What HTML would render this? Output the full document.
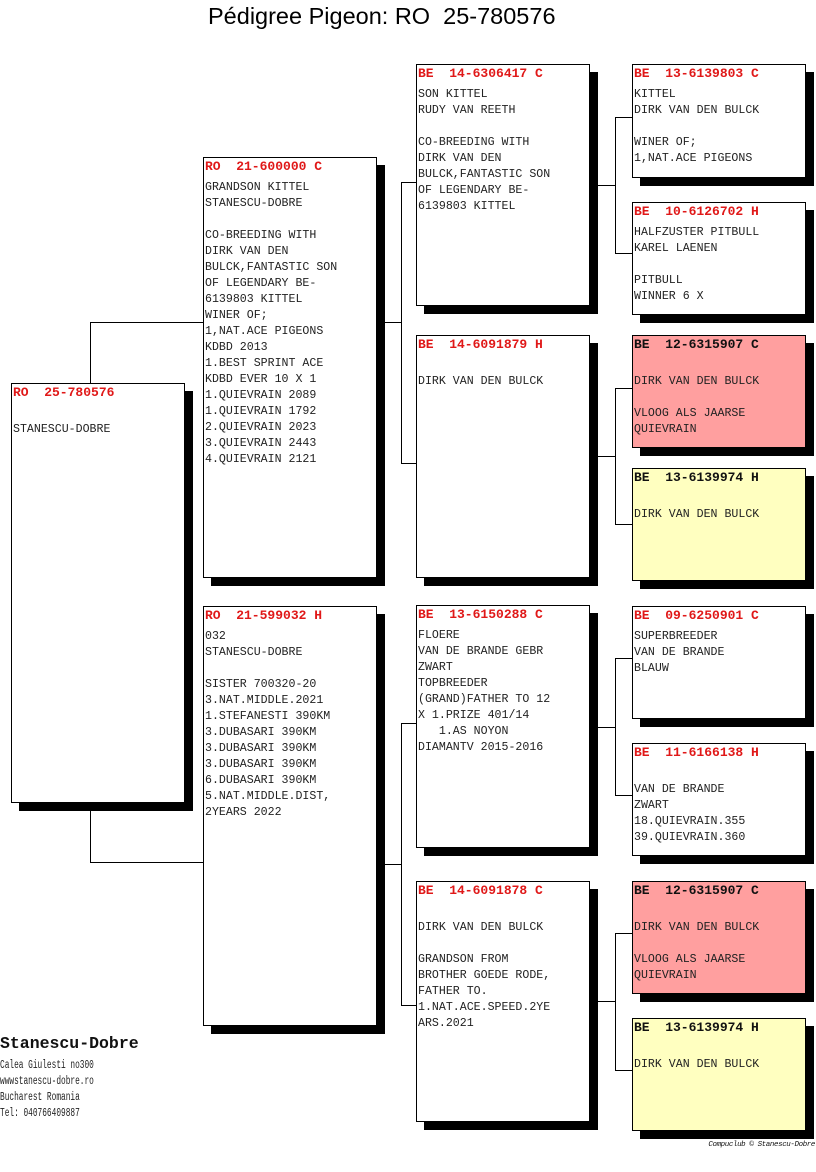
<!DOCTYPE html>
<html><head><meta charset="utf-8"><style>
body{margin:0;background:#fff;width:816px;height:1172px;position:relative;overflow:hidden}
.t{position:absolute;left:208px;top:3px;font:23.5px "Liberation Sans",sans-serif;color:#000;white-space:pre}
.b{position:absolute;border:1px solid #000;background:#fff;box-shadow:8px 8px 0 #000;font:11.6px/16px "Liberation Mono",monospace;color:#222;white-space:pre;box-sizing:border-box;padding:0 0 0 1px;overflow:hidden}
.h{color:#e01818;font-weight:bold;font-size:13px;height:22px;line-height:17px}
.pk{background:#ff9f9f}.pk .h{color:#111}
.yl{background:#ffffc0}.yl .h{color:#111}
.l{position:absolute;background:#000}
.f{position:absolute;left:0;font-family:"Liberation Mono",monospace;color:#222;white-space:pre}
</style></head><body>
<div class="t">Pédigree Pigeon: RO  25-780576</div>

<div class="l" style="left:90px;top:322px;width:1px;height:61px"></div>
<div class="l" style="left:90px;top:322px;width:113px;height:1px"></div>
<div class="l" style="left:90px;top:802px;width:1px;height:61px"></div>
<div class="l" style="left:90px;top:862px;width:113px;height:1px"></div>

<div class="l" style="left:384px;top:322px;width:18px;height:1px"></div>
<div class="l" style="left:401px;top:182px;width:1px;height:282px"></div>
<div class="l" style="left:401px;top:182px;width:15px;height:1px"></div>
<div class="l" style="left:401px;top:463px;width:15px;height:1px"></div>

<div class="l" style="left:384px;top:864px;width:18px;height:1px"></div>
<div class="l" style="left:401px;top:723px;width:1px;height:283px"></div>
<div class="l" style="left:401px;top:723px;width:15px;height:1px"></div>
<div class="l" style="left:401px;top:1005px;width:15px;height:1px"></div>

<div class="l" style="left:597px;top:185px;width:18px;height:1px"></div>
<div class="l" style="left:615px;top:117px;width:1px;height:137px"></div>
<div class="l" style="left:615px;top:117px;width:17px;height:1px"></div>
<div class="l" style="left:615px;top:253px;width:17px;height:1px"></div>

<div class="l" style="left:597px;top:456px;width:18px;height:1px"></div>
<div class="l" style="left:615px;top:388px;width:1px;height:137px"></div>
<div class="l" style="left:615px;top:388px;width:17px;height:1px"></div>
<div class="l" style="left:615px;top:524px;width:17px;height:1px"></div>

<div class="l" style="left:597px;top:727px;width:18px;height:1px"></div>
<div class="l" style="left:615px;top:658px;width:1px;height:138px"></div>
<div class="l" style="left:615px;top:658px;width:17px;height:1px"></div>
<div class="l" style="left:615px;top:795px;width:17px;height:1px"></div>

<div class="l" style="left:597px;top:1001px;width:18px;height:1px"></div>
<div class="l" style="left:615px;top:933px;width:1px;height:137px"></div>
<div class="l" style="left:615px;top:933px;width:17px;height:1px"></div>
<div class="l" style="left:615px;top:1070px;width:17px;height:1px"></div>

<div class="b" style="left:11px;top:383px;width:174px;height:420px"><div class="h">RO  25-780576</div>
STANESCU-DOBRE</div>

<div class="b" style="left:203px;top:157px;width:174px;height:421px"><div class="h">RO  21-600000 C</div>GRANDSON KITTEL
STANESCU-DOBRE

CO-BREEDING WITH
DIRK VAN DEN
BULCK,FANTASTIC SON
OF LEGENDARY BE-
6139803 KITTEL
WINER OF;
1,NAT.ACE PIGEONS
KDBD 2013
1.BEST SPRINT ACE
KDBD EVER 10 X 1
1.QUIEVRAIN 2089
1.QUIEVRAIN 1792
2.QUIEVRAIN 2023
3.QUIEVRAIN 2443
4.QUIEVRAIN 2121</div>
<div class="b" style="left:203px;top:606px;width:174px;height:420px"><div class="h">RO  21-599032 H</div>032
STANESCU-DOBRE

SISTER 700320-20
3.NAT.MIDDLE.2021
1.STEFANESTI 390KM
3.DUBASARI 390KM
3.DUBASARI 390KM
3.DUBASARI 390KM
6.DUBASARI 390KM
5.NAT.MIDDLE.DIST,
2YEARS 2022</div>

<div class="b" style="left:416px;top:64px;width:174px;height:242px"><div class="h">BE  14-6306417 C</div>SON KITTEL
RUDY VAN REETH

CO-BREEDING WITH
DIRK VAN DEN
BULCK,FANTASTIC SON
OF LEGENDARY BE-
6139803 KITTEL</div>
<div class="b" style="left:416px;top:335px;width:174px;height:243px"><div class="h">BE  14-6091879 H</div>
DIRK VAN DEN BULCK</div>
<div class="b" style="left:416px;top:605px;width:174px;height:243px"><div class="h">BE  13-6150288 C</div>FLOERE
VAN DE BRANDE GEBR
ZWART
TOPBREEDER
(GRAND)FATHER TO 12
X 1.PRIZE 401/14
   1.AS NOYON
DIAMANTV 2015-2016</div>
<div class="b" style="left:416px;top:881px;width:174px;height:241px"><div class="h">BE  14-6091878 C</div>
DIRK VAN DEN BULCK

GRANDSON FROM
BROTHER GOEDE RODE,
FATHER TO.
1.NAT.ACE.SPEED.2YE
ARS.2021</div>

<div class="b" style="left:632px;top:64px;width:174px;height:114px"><div class="h">BE  13-6139803 C</div>KITTEL
DIRK VAN DEN BULCK

WINER OF;
1,NAT.ACE PIGEONS</div>
<div class="b" style="left:632px;top:202px;width:174px;height:113px"><div class="h">BE  10-6126702 H</div>HALFZUSTER PITBULL
KAREL LAENEN

PITBULL
WINNER 6 X</div>
<div class="b pk" style="left:632px;top:335px;width:174px;height:113px"><div class="h">BE  12-6315907 C</div>
DIRK VAN DEN BULCK

VLOOG ALS JAARSE
QUIEVRAIN</div>
<div class="b yl" style="left:632px;top:468px;width:174px;height:113px"><div class="h">BE  13-6139974 H</div>
DIRK VAN DEN BULCK</div>
<div class="b" style="left:632px;top:606px;width:174px;height:113px"><div class="h">BE  09-6250901 C</div>SUPERBREEDER
VAN DE BRANDE
BLAUW</div>
<div class="b" style="left:632px;top:743px;width:174px;height:113px"><div class="h">BE  11-6166138 H</div>
VAN DE BRANDE
ZWART
18.QUIEVRAIN.355
39.QUIEVRAIN.360</div>
<div class="b pk" style="left:632px;top:881px;width:174px;height:113px"><div class="h">BE  12-6315907 C</div>
DIRK VAN DEN BULCK

VLOOG ALS JAARSE
QUIEVRAIN</div>
<div class="b yl" style="left:632px;top:1018px;width:174px;height:113px"><div class="h">BE  13-6139974 H</div>
DIRK VAN DEN BULCK</div>

<div class="f" style="top:1034px;font-size:16.5px;font-weight:bold;color:#111">Stanescu-Dobre</div>
<div class="f" style="top:1058px;font-size:11.5px;line-height:16px;transform:scaleX(0.68);transform-origin:0 0">Calea Giulesti no300
wwwstanescu-dobre.ro
Bucharest Romania
Tel: 040766409887</div>
<div style="position:absolute;right:1px;top:1141px;font:italic 7.5px 'Liberation Mono',monospace;color:#111;letter-spacing:-0.4px;white-space:pre">Compuclub © Stanescu-Dobre</div>
</body></html>
